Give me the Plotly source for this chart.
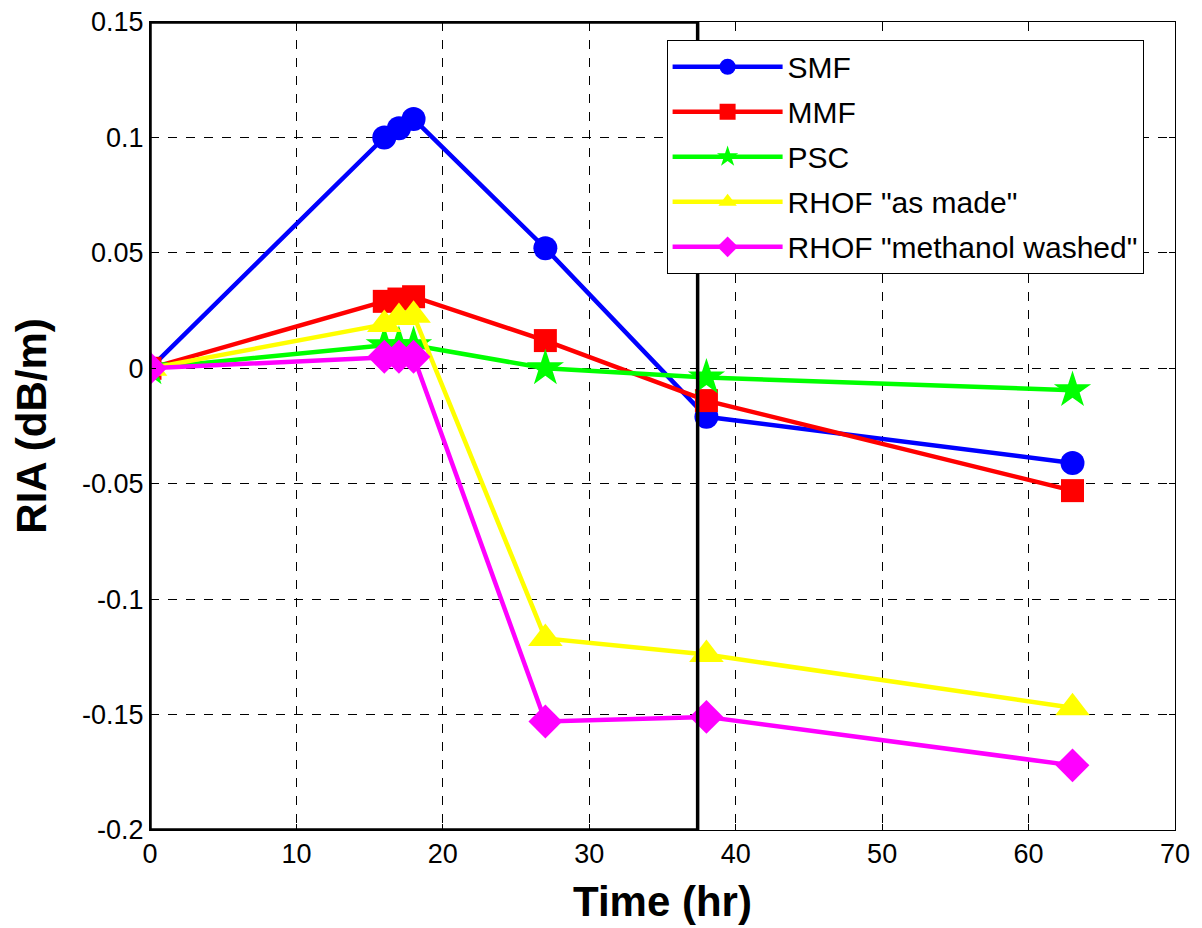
import plotly.graph_objects as go

time_hr = [0, 16, 17, 18, 27, 38, 63]
smf = [0, 0.100, 0.104, 0.108, 0.052, -0.021, -0.041]
mmf = [0, 0.029, 0.030, 0.031, 0.012, -0.014, -0.053]
psc = [0, 0.010, 0.010, 0.010, 0.000, -0.004, -0.0095]
rhof_as_made = [0, 0.019, 0.022, 0.023, -0.117, -0.124, -0.147]
rhof_methanol = [0, 0.005, 0.005, 0.005, -0.153, -0.151, -0.172]

series_names = ["SMF", "MMF", "PSC", 'RHOF "as made"', 'RHOF "methanol washed"']
series_values = [smf, mmf, psc, rhof_as_made, rhof_methanol]
colors = ["#0000ff", "#ff0000", "#00ff00", "#ffff00", "#ff00ff"]
symbols = ["circle", "square", "star", "triangle-up", "diamond"]
sizes = [24, 23, 28, 30, 26]

x_ticks = [0, 10, 20, 30, 40, 50, 60, 70]
y_ticks = [0.15, 0.1, 0.05, 0, -0.05, -0.1, -0.15, -0.2]
y_tick_labels = ["0.15", "0.1", "0.05", "0", "-0.05", "-0.1", "-0.15", "-0.2"]
box_x = [0, 37.4]

fig = go.Figure()
for i, (name, vals, c, s, sz) in enumerate(zip(series_names, series_values, colors, symbols, sizes)):
    fig.add_trace(go.Scatter(
        x=time_hr, y=vals, name=name, mode="lines+markers", legendgroup=f"g{i}",
        line=dict(color=c, width=4.5),
        marker=dict(color=c, symbol=s, size=sz, line=dict(width=0)),
    ))

font = "Liberation Sans, Arial, Helvetica, sans-serif"
axis_common = dict(
    showline=True, linecolor="black", linewidth=1, mirror="ticks",
    ticks="inside", ticklen=6, tickcolor="black",
    showgrid=True, gridcolor="black", gridwidth=1, griddash="dash",
    zeroline=False, tickfont=dict(family=font, size=27, color="black"),
    ticklabeloverflow="allow", automargin=False,
)

fig.update_layout(
    width=1202, height=928,
    paper_bgcolor="white", plot_bgcolor="white",
    margin=dict(l=142, r=35, t=14, b=106),
    font=dict(family=font, color="black"),
    xaxis=dict(range=[0, 70], tickvals=x_ticks,
               title=dict(text="<b>Time (hr)</b>", font=dict(family=font, size=42), standoff=18),
               **axis_common),
    yaxis=dict(range=[-0.2, 0.15], tickvals=y_ticks, ticktext=y_tick_labels,
               title=dict(text="<b>RIA (dB/m)</b>", font=dict(family=font, size=42), standoff=26),
               **axis_common),
    legend=dict(x=0.504, y=0.978, xanchor="left", yanchor="top",
                bgcolor="white", bordercolor="black", borderwidth=1,
                font=dict(family=font, size=30, color="black"),
                itemwidth=110, traceorder="grouped", tracegroupgap=3),
    showlegend=True,
)

fig.add_shape(type="rect", xref="x", yref="y",
              x0=box_x[0], x1=box_x[1], y0=-0.2, y1=0.15,
              line=dict(color="black", width=3.5), layer="above")

fig.write_html("out.html")
